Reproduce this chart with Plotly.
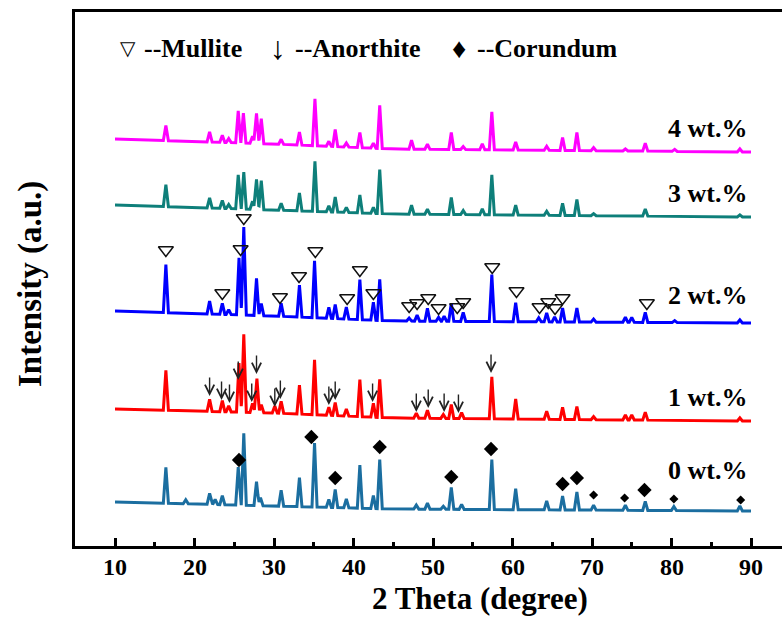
import numpy as np
import plotly.graph_objects as go

# ---------------- data ----------------
series_names = ["0 wt.%", "1 wt.%", "2 wt.%", "3 wt.%", "4 wt.%"]
series_colors = ["#1b6ea0", "#ff0000", "#0000ff", "#0e7f7a", "#ff00ff"]

# baseline anchors (2θ, intensity a.u., stacked offsets)
base_x = [10, 30, 45, 90]
base_0wt = [44, 40, 37, 35]
base_1wt = [137, 133, 128, 125]
base_2wt = [235, 230, 225, 223]
base_3wt = [341, 336, 332, 329]
base_4wt = [407, 402, 397, 394]

# peak positions (2θ) and heights above the baseline (a.u.)
pos_0wt = [16.4, 18.9, 21.9, 22.6, 23.5, 25.5, 26.2, 27.8, 28.3, 30.9, 33.2, 35.1, 36.9, 37.7, 39.1,
           40.8, 42.5, 43.3, 47.9, 49.3, 51.3, 52.3, 53.6, 57.4, 60.4, 64.3, 66.3, 68.1, 70.2, 74.2,
           76.7, 80.3, 88.6]
hgt_0wt = [36, 4, 11, 5, 9, 38, 72, 24, 8, 16, 29, 64, 8, 18, 9,
           43, 13, 49, 4, 6, 3, 22, 5, 50, 21, 9, 14, 18, 5, 5,
           9, 4, 5]

pos_1wt = [16.4, 21.9, 23.5, 24.3, 25.6, 26.2, 27.3, 27.85, 28.4, 30.1, 30.9, 33.2, 35.1, 36.9, 37.7,
           39.1, 40.8, 42.5, 43.3, 47.9, 49.3, 51.3, 52.3, 53.6, 57.4, 60.4, 64.3, 66.3, 68.1, 70.2,
           74.2, 75.0, 76.7, 88.6]
hgt_1wt = [40, 12, 11, 6, 49, 78, 9, 34, 8, 7, 12, 29, 55, 8, 13,
           7, 37, 14, 38, 5, 8, 4, 14, 6, 42, 20, 8, 12, 13, 3,
           5, 5, 8, 3]

pos_2wt = [16.4, 21.9, 23.5, 24.3, 25.6, 26.2, 27.8, 28.4, 30.9, 33.2, 35.1, 36.9, 37.7, 39.1, 40.8,
           42.5, 43.3, 47.0, 48.0, 49.3, 50.7, 51.4, 52.3, 53.8, 57.4, 60.4, 63.3, 64.3, 65.3, 66.3,
           68.1, 70.2, 74.2, 75.0, 76.7, 80.4, 88.6]
hgt_2wt = [48, 13, 11, 5, 57, 88, 37, 12, 13, 32, 57, 11, 14, 12, 40,
           18, 41, 3, 6, 13, 4, 5, 18, 9, 47, 19, 4, 9, 5, 14,
           14, 3, 5, 5, 10, 2, 3]

pos_3wt = [16.4, 21.9, 23.5, 24.3, 25.5, 26.2, 27.3, 27.8, 28.4, 30.9, 33.2, 35.15, 36.9, 37.7, 39.1,
           40.8, 42.5, 43.3, 47.3, 49.3, 52.3, 53.8, 56.2, 57.4, 60.4, 64.3, 66.3, 68.1, 70.2, 76.7,
           88.6]
hgt_3wt = [22, 10, 8, 4, 34, 37, 8, 30, 29, 7, 18, 50, 6, 15, 5,
           18, 6, 44, 9, 5, 17, 4, 6, 40, 10, 4, 12, 16, 2, 7,
           2]

pos_4wt = [16.4, 21.9, 23.5, 24.3, 25.5, 26.15, 27.3, 27.8, 28.4, 30.9, 33.2, 35.15, 36.9, 37.7, 39.1,
           40.8, 42.5, 43.3, 47.3, 49.3, 52.3, 53.8, 56.2, 57.4, 60.4, 64.3, 66.3, 68.1, 70.2, 74.2,
           76.7, 80.4, 88.6]
hgt_4wt = [15, 10, 7, 4, 32, 30, 7, 30, 25, 5, 13, 47, 5, 17, 4,
           15, 5, 43, 9, 5, 17, 3, 6, 38, 8, 4, 13, 18, 3, 2,
           8, 2, 3]

# phase marks
mullite_x = [16.4, 23.5, 25.8, 26.2, 30.75, 33.15, 35.2, 39.2, 40.8, 42.5, 47.0, 48.0, 49.4, 50.7,
             53.05, 53.8, 57.45, 60.5, 63.4, 64.5, 65.35, 66.3, 76.9]
mullite_y = [296, 253, 297, 328, 249, 270, 295, 248, 276, 253, 240, 243, 248, 238,
             239, 244, 279, 255, 239, 244, 238, 248, 243]

anorthite_x = [21.9, 23.4, 24.4, 25.5, 27.2, 27.8, 30.1, 30.8, 36.9, 37.7, 42.4, 47.9, 49.4, 51.4, 53.2, 57.3]
anorthite_y = [150, 146, 143, 166, 144, 172, 139, 147, 141, 146, 144, 134, 138, 134, 133, 173]

corundum_x = [25.6, 34.7, 37.7, 43.3, 52.3, 57.3, 66.3, 68.1, 70.2, 74.1, 76.6, 80.3, 88.7]
corundum_y = [86, 109, 68, 99, 69, 97, 62, 68, 51, 48, 56, 47, 46]
corundum_strong = [True, True, True, True, True, True, True, True, False, False, True, False, False]

label_y = [76, 149, 251, 353, 418]

x_ticks = [10, 20, 30, 40, 50, 60, 70, 80, 90]

# ---------------- figure ----------------
W, H = 782, 617
ML, MR, MT, MB = 75, 0, 12, 71
PW, PH = W - ML - MR, H - MT - MB
FONT = "Liberation Serif"


def px_to_paper(px, py):
    return (px - ML) / PW, (H - MB - py) / PH


HW = 0.32


def build(pos, hgt, base):
    xs = sorted(set([10.0, 90.0] + list(pos) + [p - HW for p in pos] + [p + HW for p in pos]))
    xs = np.array(xs)
    ys = np.interp(xs, base_x, base)
    for p, h in zip(pos, hgt):
        ys = ys + h * np.clip(1 - np.abs(xs - p) / HW, 0, None)
    return xs, ys


all_pos = [pos_0wt, pos_1wt, pos_2wt, pos_3wt, pos_4wt]
all_hgt = [hgt_0wt, hgt_1wt, hgt_2wt, hgt_3wt, hgt_4wt]
all_base = [base_0wt, base_1wt, base_2wt, base_3wt, base_4wt]

fig = go.Figure()
for name, col, p, h, b in zip(series_names, series_colors, all_pos, all_hgt, all_base):
    xs, ys = build(p, h, b)
    fig.add_trace(go.Scatter(x=xs, y=ys, mode="lines", name=name,
                             line=dict(color=col, width=3), showlegend=False,
                             hoverinfo="skip"))

fig.add_trace(go.Scatter(x=mullite_x, y=mullite_y, mode="markers", showlegend=False,
                         marker=dict(symbol="triangle-down-open", size=13, color="#111111",
                                     opacity=1, line=dict(width=1.5, color="#111111"))))
fig.add_trace(go.Scatter(x=corundum_x, y=corundum_y, mode="markers", showlegend=False,
                         marker=dict(symbol="diamond", color="black", opacity=1,
                                     size=[11 if s else 7 for s in corundum_strong],
                                     line=dict(width=0))))

annotations = []
for ax_, ay_ in zip(anorthite_x, anorthite_y):
    annotations.append(dict(x=ax_, y=ay_, xref="x", yref="y", text="", showarrow=True,
                            ax=0, ay=-20, arrowhead=5, arrowsize=1.3, arrowwidth=1.4,
                            arrowcolor="#222222", standoff=0, startstandoff=0))

for name, ly in zip(series_names, label_y):
    annotations.append(dict(x=89.7, y=ly, xref="x", yref="y", text=name, showarrow=False,
                            xanchor="right", yanchor="middle",
                            font=dict(family=FONT, size=26, color="black", weight="bold")))

# legend text at top
leg_items = [(118, "▽", False, 20), (142, "--Mullite", True, 26),
             (268, "↓", False, 32), (293, "--Anorthite", True, 26),
             (450, "♦", False, 28), (475, "--Corundum", True, 26)]
for px, txt, bold, fs in leg_items:
    x, y = px_to_paper(px, 48)
    annotations.append(dict(x=x, y=y, xref="paper", yref="paper", text=txt, showarrow=False,
                            xanchor="left", yanchor="middle",
                            font=dict(family=FONT, size=fs, color="black",
                                      weight="bold" if bold else "normal")))

# x tick labels and axis titles
for t in x_ticks:
    annotations.append(dict(x=t, y=0, xref="x", yref="paper", text=str(t), showarrow=False,
                            xanchor="center", yanchor="top", yshift=-6,
                            font=dict(family=FONT, size=24, color="black", weight="bold")))
x, y = px_to_paper(480, 598)
annotations.append(dict(x=x, y=y, xref="paper", yref="paper", text="2 Theta (degree)",
                        showarrow=False, xanchor="center", yanchor="middle",
                        font=dict(family=FONT, size=31, color="black", weight="bold")))
x, y = px_to_paper(30, 284)
annotations.append(dict(x=x, y=y, xref="paper", yref="paper", text="Intensity (a.u.)",
                        showarrow=False, xanchor="center", yanchor="middle", textangle=-90,
                        font=dict(family=FONT, size=33, color="black", weight="bold")))

x_left = 10 + (ML - 115) / 7.95
x_right = 10 + (W - 115) / 7.95

fig.update_layout(
    width=W, height=H,
    margin=dict(l=ML, r=MR, t=MT, b=MB),
    paper_bgcolor="white", plot_bgcolor="white",
    annotations=annotations,
    xaxis=dict(range=[x_left, x_right], tickvals=x_ticks, showticklabels=False,
               ticks="inside", ticklen=8, tickwidth=2.5, tickcolor="black",
               showline=True, linewidth=3, linecolor="black", mirror=True,
               showgrid=False, zeroline=False,
               minor=dict(tickvals=[15, 25, 35, 45, 55, 65, 75, 85], ticks="inside",
                          ticklen=4, tickwidth=2.5, tickcolor="black")),
    yaxis=dict(range=[0, PH], showticklabels=False, ticks="", showgrid=False, zeroline=False,
               showline=True, linewidth=3, linecolor="black", mirror=False),
)

fig.write_html("out.html")
